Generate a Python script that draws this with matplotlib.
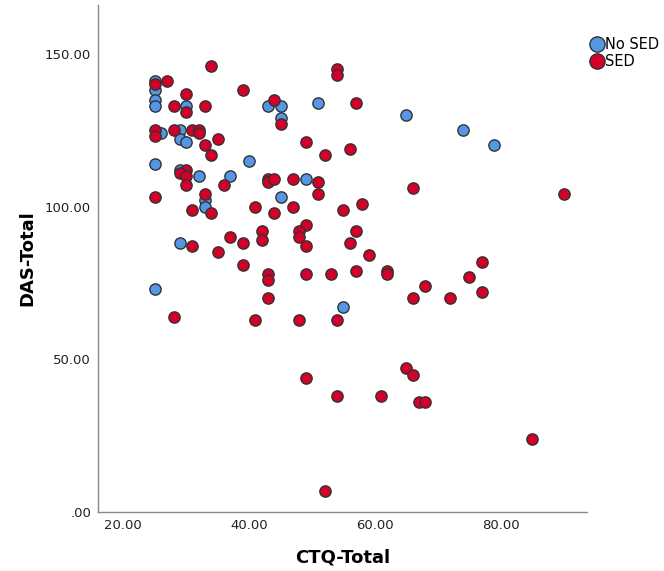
"""CTQ-Total vs DAS-Total scatter, grouped by SED"""
import matplotlib
matplotlib.use('Agg')
import matplotlib.pyplot as plt
from matplotlib.lines import Line2D

# No SED group
no_sed_ctq = [25, 25, 25, 25, 30, 26, 29, 29, 30, 25, 40, 29, 32, 37,
              33, 33, 29, 25, 43, 45, 51, 45, 49, 45, 55, 65, 74, 79]
no_sed_das = [141, 138, 135, 133, 133, 124, 125, 122, 121, 114, 115, 112, 110, 110,
              102, 100, 88, 73, 133, 133, 134, 129, 109, 103, 67, 130, 125, 120]

# SED group
sed_ctq = [34, 25, 27, 30, 39, 28, 30, 33, 25, 25, 28, 31, 32, 32, 35, 33, 34,
           30, 29, 30, 30, 36, 25, 33, 41, 31, 34, 31, 37, 35, 39, 39, 42, 42,
           28, 41,
           54, 54, 44, 57, 45, 49, 52, 56, 43, 43, 44, 47, 51, 51, 58, 47, 55,
           44, 49, 48, 48, 49, 57, 56, 59, 43, 43, 49, 53, 57, 43, 48, 54,
           66, 90, 62, 62, 77, 75, 68, 66, 72, 77,
           65, 66, 49, 54, 61, 67, 68, 85, 52]
sed_das = [146, 140, 141, 137, 138, 133, 131, 133, 125, 123, 125, 125, 125, 124, 122, 120, 117,
           112, 111, 110, 107, 107, 103, 104, 100, 99, 98, 87, 90, 85, 88, 81, 92, 89,
           64, 63,
           145, 143, 135, 134, 127, 121, 117, 119, 109, 108, 109, 109, 108, 104, 101, 100, 99,
           98, 94, 92, 90, 87, 92, 88, 84, 78, 76, 78, 78, 79, 70, 63, 63,
           106, 104, 79, 78, 82, 77, 74, 70, 70, 72,
           47, 45, 44, 38, 38, 36, 36, 24, 7]

x_ticks = [20, 40, 60, 80]
y_ticks = [0, 50, 100, 150]

BLUE = '#5597e4'
RED = '#d4002a'


def fmt_tick(v):
    s = f'{v:.2f}'
    return s[1:] if s.startswith('0.') else s


def main():
    fig = plt.figure(figsize=(6.64, 5.71), dpi=100)
    ax = fig.add_axes([0.1476, 0.1033, 0.7364, 0.888])

    kw = dict(s=66, edgecolors='#333333', linewidths=1.0, zorder=3)
    ax.scatter(no_sed_ctq, no_sed_das, color=BLUE, **kw)
    ax.scatter(sed_ctq, sed_das, color=RED, **kw)

    ax.set_xlim(16, 93.7)
    ax.set_ylim(0, 166)
    ax.set_xticks(x_ticks)
    ax.set_yticks(y_ticks)
    ax.set_xticklabels([fmt_tick(v) for v in x_ticks])
    ax.set_yticklabels([fmt_tick(v) for v in y_ticks])
    ax.tick_params(length=0, labelsize=9.5, colors='#222222', pad=5)

    for side in ('top', 'right'):
        ax.spines[side].set_visible(False)
    for side in ('left', 'bottom'):
        ax.spines[side].set_color('#8a8a8a')
        ax.spines[side].set_linewidth(1.0)

    ax.set_xlabel('CTQ-Total', fontsize=13, fontweight='bold', labelpad=12)
    ax.set_ylabel('DAS-Total', fontsize=13, fontweight='bold', labelpad=6)

    handles = [
        Line2D([], [], marker='o', linestyle='', markersize=11,
               markerfacecolor=BLUE, markeredgecolor='#333333', label='No SED'),
        Line2D([], [], marker='o', linestyle='', markersize=11,
               markerfacecolor=RED, markeredgecolor='#333333', label='SED'),
    ]
    fig.legend(handles=handles, loc='upper left', bbox_to_anchor=(0.88, 0.948),
               frameon=False, fontsize=10.5, handlelength=0.8, handletextpad=0.15,
               labelspacing=0.15, borderpad=0)

    fig.savefig('out.png', dpi=100)
    plt.close(fig)


if __name__ == '__main__':
    main()
